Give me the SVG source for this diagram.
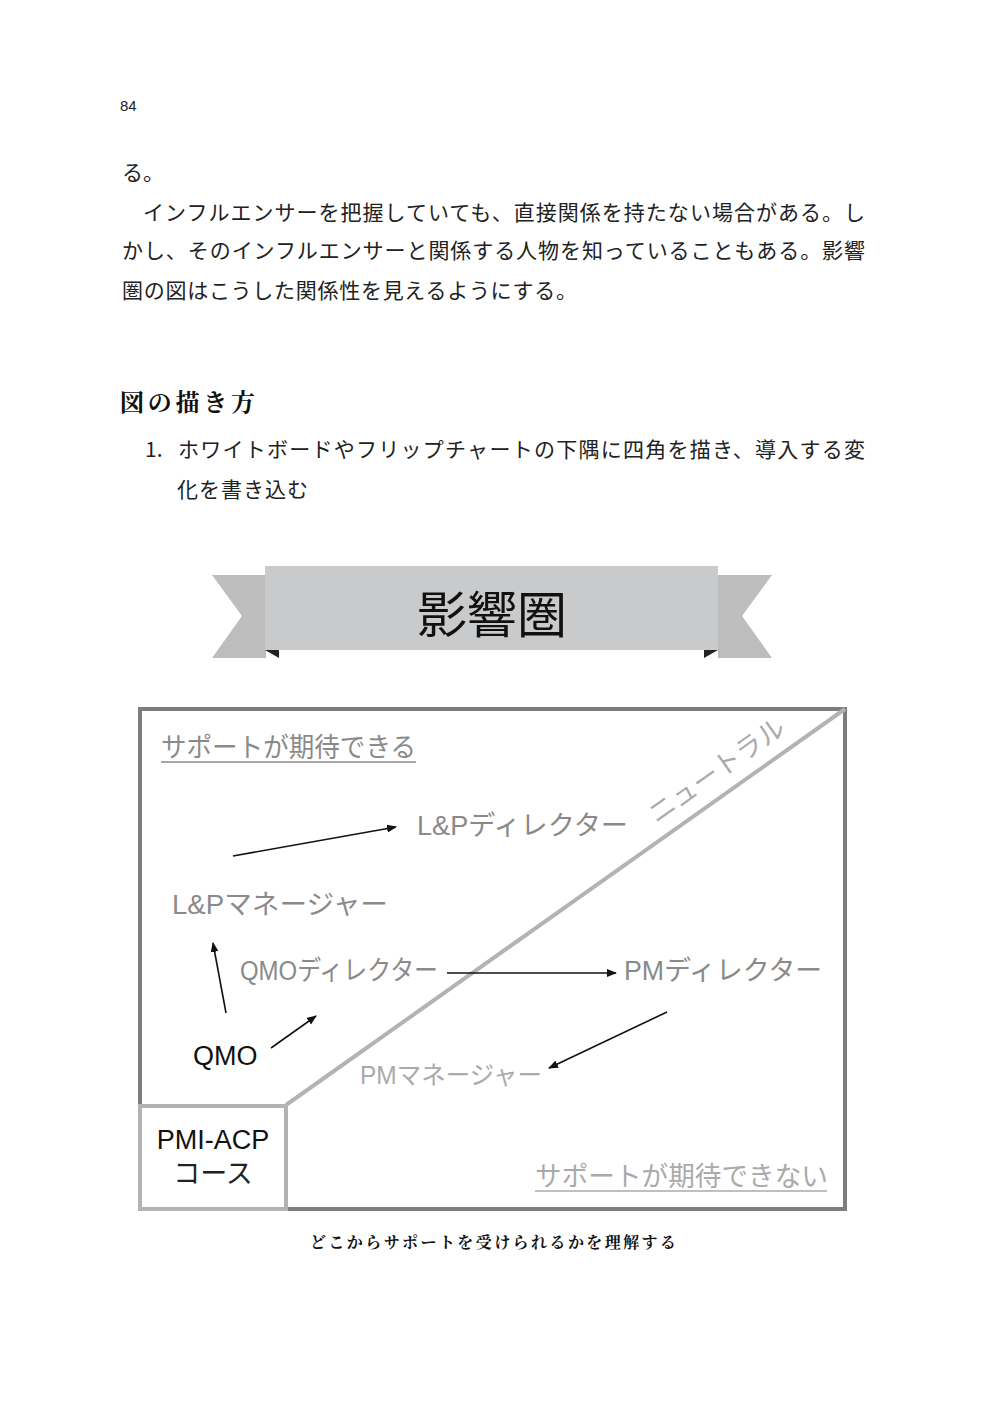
<svg xmlns="http://www.w3.org/2000/svg" width="998" height="1411" viewBox="0 0 998 1411">
<defs>
<marker id="ah" markerWidth="10" markerHeight="8" refX="9" refY="4" orient="auto" markerUnits="userSpaceOnUse" viewBox="0 0 10 8"><path d="M0,0 L10,4 L0,8 z" fill="#111"/></marker>
<style>
.b{font-family:"Noto Sans CJK JP","Noto Sans",sans-serif;fill:#222}
.s{font-family:"Noto Serif CJK JP","Noto Sans CJK JP",serif;font-weight:bold;fill:#111}
.n{font-family:"Liberation Sans","Noto Sans CJK JP",sans-serif}
.g1{fill:#8a8a8a}.g2{fill:#aaaaaa}
.a{stroke:#111;stroke-width:1.6;fill:none;marker-end:url(#ah)}
</style>
</defs>
<rect width="998" height="1411" fill="#fff"/>
<text x="120" y="111" class="n" font-size="15" fill="#222">84</text>
<g class="b" font-size="21">
<text x="122" y="180">る。</text>
<text x="143" y="220" textLength="722" lengthAdjust="spacing">インフルエンサーを把握していても、直接関係を持たない場合がある。し</text>
<text x="122" y="258" textLength="743" lengthAdjust="spacing">かし、そのインフルエンサーと関係する人物を知っていることもある。影響</text>
<text x="122" y="298" textLength="455" lengthAdjust="spacing">圏の図はこうした関係性を見えるようにする。</text>
<text x="145" y="457">1.</text>
<text x="178" y="457" textLength="687" lengthAdjust="spacing">ホワイトボードやフリップチャートの下隅に四角を描き、導入する変</text>
<text x="177" y="497" textLength="131" lengthAdjust="spacing">化を書き込む</text>
</g>
<text x="120" y="411" class="s" font-size="24" textLength="135" lengthAdjust="spacing">図の描き方</text>
<g id="banner">
<polygon points="212,575 266,575 266,658 212,658 242,616" fill="#bdbdbd"/>
<polygon points="772,575 718,575 718,658 772,658 742,616" fill="#bdbdbd"/>
<polygon points="265,650 279,650 279,658" fill="#222"/>
<polygon points="718,650 704,650 704,658" fill="#222"/>
<rect x="265" y="566" width="453" height="84" fill="#c9cacc"/>
<text x="492" y="633" text-anchor="middle" font-family="Noto Sans CJK JP,sans-serif" font-size="50" fill="#111">影響圏</text>
</g>
<g id="frame">
<rect x="140" y="709" width="705" height="500" fill="#fff" stroke="#7d7d7d" stroke-width="4"/>
<line x1="286" y1="1105" x2="845" y2="709" stroke="#b3b3b3" stroke-width="4"/>
</g>
<g id="pmi">
<rect x="140" y="1106" width="146" height="103" fill="#fff" stroke="#b3b3b3" stroke-width="4"/>
<text x="213" y="1149" text-anchor="middle" class="n" font-size="27" fill="#111">PMI-ACP</text>
<text x="213" y="1183" text-anchor="middle" class="b" font-size="27" fill="#111">コース</text>
</g>
<g id="labels" font-size="27" font-family="Noto Sans CJK JP,sans-serif">
<text x="161" y="757" class="g1" textLength="255" lengthAdjust="spacingAndGlyphs">サポートが期待できる</text>
<line x1="161" y1="762" x2="416" y2="762" stroke="#8a8a8a" stroke-width="1.5"/>
<text x="535" y="1186" class="g2" textLength="293" lengthAdjust="spacingAndGlyphs">サポートが期待できない</text>
<line x1="535" y1="1191" x2="827" y2="1191" stroke="#aaa" stroke-width="1.5"/>
<text transform="translate(722,778) rotate(-35.3)" text-anchor="middle" class="g2" textLength="160" lengthAdjust="spacingAndGlyphs">ニュートラル</text>
</g>
<g id="n-lpd"><text x="417" y="835" class="n g1" font-size="27" textLength="211" lengthAdjust="spacingAndGlyphs">L&amp;Pディレクター</text></g>
<g id="n-lpm"><text x="172" y="914" class="n g1" font-size="27" textLength="216" lengthAdjust="spacingAndGlyphs">L&amp;Pマネージャー</text></g>
<g id="n-qmod"><text x="240" y="980" class="n g1" font-size="27" textLength="198" lengthAdjust="spacingAndGlyphs">QMOディレクター</text></g>
<g id="n-pmd"><text x="624" y="980" class="n g1" font-size="27" textLength="198" lengthAdjust="spacingAndGlyphs">PMディレクター</text></g>
<g id="n-qmo"><text x="193" y="1065" class="n" font-size="27" fill="#111">QMO</text></g>
<g id="n-pmm"><text x="360" y="1084" class="n g2" font-size="25" textLength="182" lengthAdjust="spacingAndGlyphs">PMマネージャー</text></g>
<g id="connectors">
<line class="a" x1="233" y1="856" x2="396" y2="827"/>
<line class="a" x1="226" y1="1013" x2="213" y2="943"/>
<line class="a" x1="271" y1="1048" x2="316" y2="1016"/>
<line class="a" x1="447" y1="973" x2="616" y2="973"/>
<line class="a" x1="667" y1="1012" x2="549" y2="1068"/>
</g>
<text x="310" y="1248" class="s" font-size="16" textLength="366" lengthAdjust="spacing">どこからサポートを受けられるかを理解する</text>
</svg>
